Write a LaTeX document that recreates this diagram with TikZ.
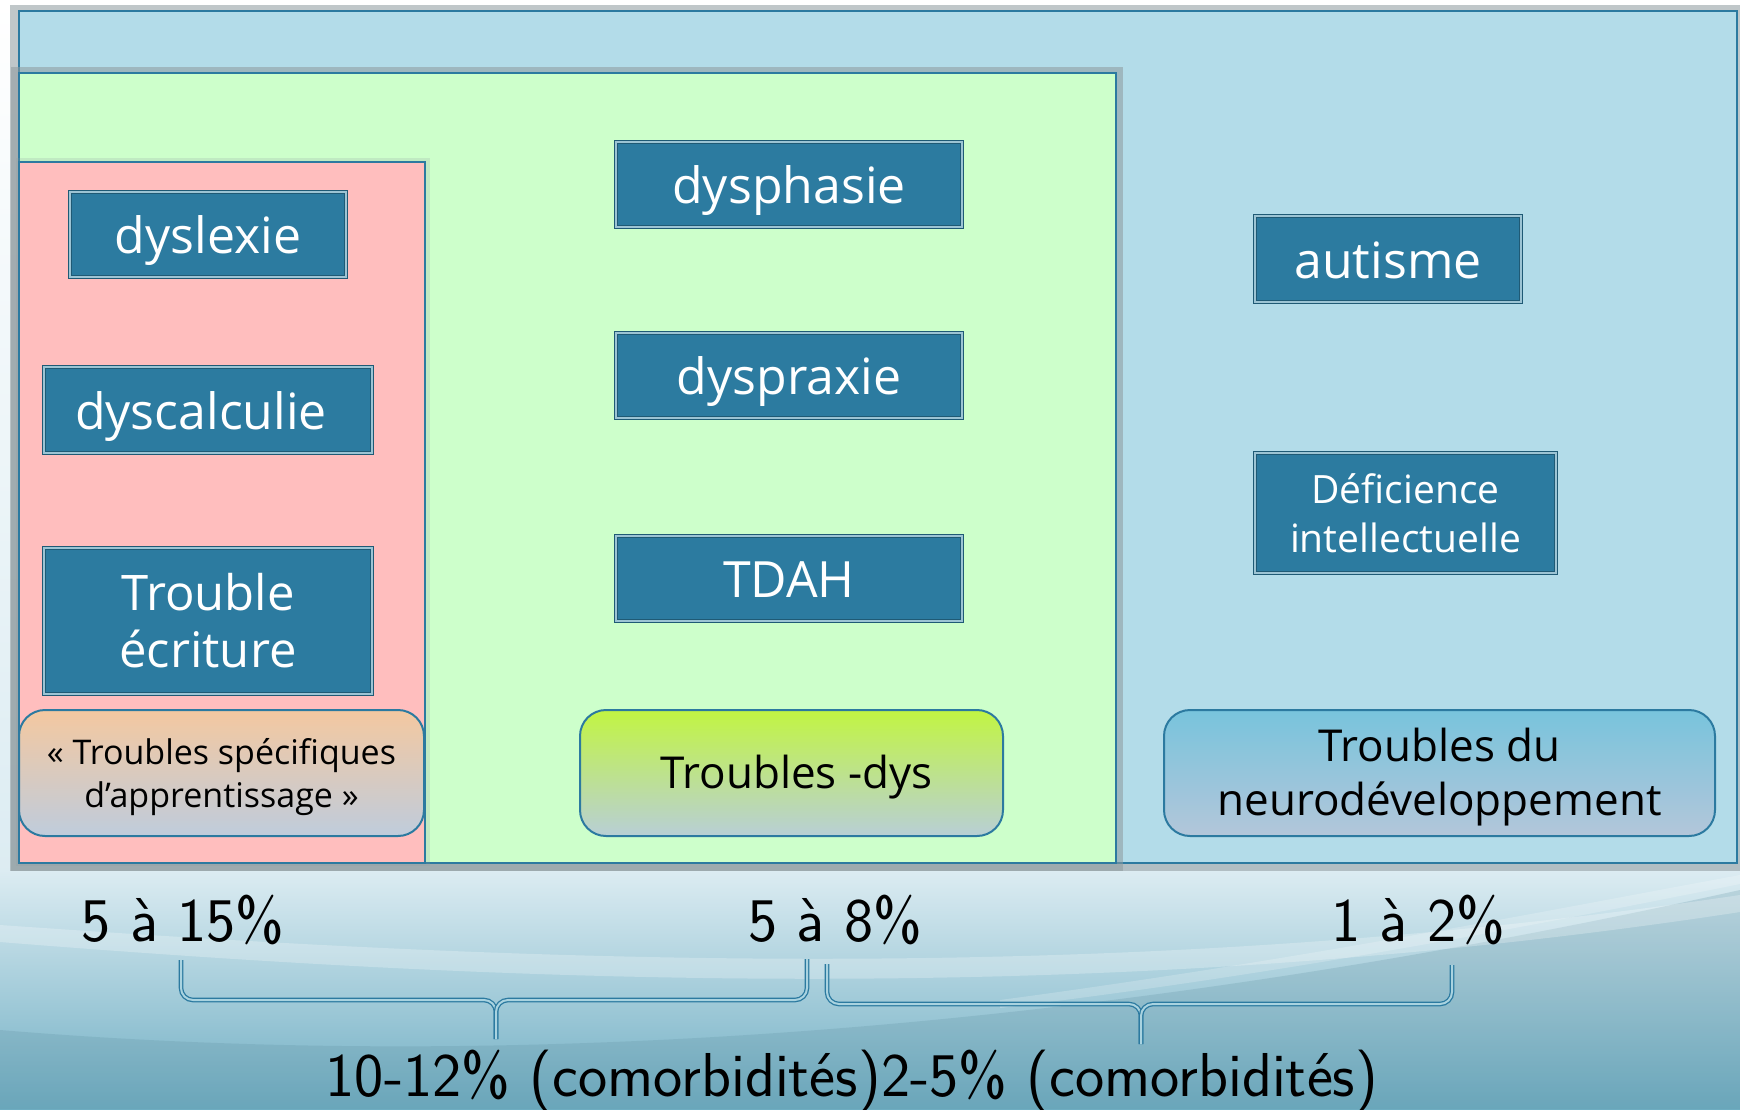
\documentclass[tikz,border=0pt]{standalone}
\usepackage{fontspec}
\newfontfamily\osans{Open Sans}
\definecolor{frame}{HTML}{2C7AA0}
\definecolor{boxblue}{HTML}{2C7BA0}
\definecolor{boxedge}{HTML}{1F5A75}
\definecolor{boxline}{HTML}{9CC4D4}
\definecolor{outerblue}{HTML}{B3DCE9}
\definecolor{greenbg}{HTML}{CDFFCB}
\definecolor{pinkbg}{HTML}{FFBEBE}
\definecolor{shadowgray}{HTML}{8E9A9E}
\definecolor{orangetop}{HTML}{F4C8A0}
\definecolor{bluebot}{HTML}{BFCCDC}
\definecolor{limetop}{HTML}{C2F542}
\definecolor{limebot}{HTML}{B8CFD6}
\definecolor{cyantop}{HTML}{78C4DC}
\definecolor{cyanbot}{HTML}{B3C6DA}
\definecolor{skytop}{HTML}{DCECF2}
\definecolor{skybot}{HTML}{6FAEC3}
\definecolor{bracefill}{HTML}{A9D3E0}
\tikzset{
  dbox/.style={draw=boxedge, line width=1.2pt, double=boxline, double distance=1.2pt,
    fill=boxblue, text=white, inner sep=0pt, align=center,
    font=\osans\fontsize{50}{57}\selectfont},
  oneline/.style={text height=50pt, text depth=12pt},
  rbox/.style={draw=frame, line width=2pt, rounded corners=26pt, inner sep=0pt,
    align=center, text=black},
  pct/.style={font=\sffamily\fontsize{62}{68}\selectfont, text=black, inner sep=0pt},
  bracestyle/.style={draw=frame, line width=1.3pt, double=bracefill, double distance=2pt,
    rounded corners=12pt},
  glow/.style={fill=shadowgray, opacity=0.55}
}
\begin{document}
\begin{tikzpicture}[x=1pt,y=-1pt]
\useasboundingbox (0,0) rectangle (1740,1109);
% page background
\fill[top color=white, bottom color=skytop] (0,0) rectangle (1740,880);
\fill[top color=skytop, bottom color=skybot] (0,870) rectangle (1740,1109);
\fill[skybot!80!black, opacity=0.22] (0,1109) -- (0,1030) .. controls (600,1080) and (1200,1010) .. (1740,890) -- (1740,1109) -- cycle;
\fill[white, opacity=0.25] (0,925) .. controls (500,960) and (1100,990) .. (1740,895) -- (1740,912) .. controls (1100,1010) and (500,982) .. (0,942) -- cycle;
\fill[white, opacity=0.2] (1000,1000) .. controls (1300,960) and (1550,910) .. (1740,875) -- (1740,884) .. controls (1550,922) and (1300,972) .. (1000,1008) -- cycle;
% containers
\fill[glow] (10,5) rectangle (1740,871);
\filldraw[fill=outerblue, draw=frame, line width=2pt] (19,11) rectangle (1737,863);
\fill[glow] (11,67) rectangle (1123,871);
\filldraw[fill=greenbg, draw=frame, line width=2pt] (19,73) rectangle (1116,863);
\fill[shadowgray, opacity=0.2] (16,158) rectangle (430,866);
\filldraw[fill=pinkbg, draw=frame, line width=2pt] (19,162) rectangle (425,863);
% dark boxes
\node[dbox, oneline, minimum width=276pt, minimum height=85pt] (dyslexie) at (208,234.5) {dyslexie};
\node[dbox, oneline, minimum width=328pt, minimum height=86pt] (dyscalc) at (208,410) {dyscalculie\hspace*{14pt}};
\node[dbox, minimum width=328pt, minimum height=146pt, font=\osans\fontsize{49}{57}\selectfont] (ecriture) at (208,621) {Trouble\\écriture};
\node[dbox, oneline, minimum width=346pt, minimum height=85pt] (dysphasie) at (789,184.5) {dysphasie};
\node[dbox, oneline, minimum width=346pt, minimum height=85pt] (dyspraxie) at (789,375.5) {dyspraxie};
\node[dbox, oneline, minimum width=346pt, minimum height=85pt] (tdah) at (789,578.5) {TDAH};
\node[dbox, oneline, minimum width=266pt, minimum height=86pt] (autisme) at (1388,259) {autisme};
\node[dbox, minimum width=301pt, minimum height=120pt, font=\osans\fontsize{39}{49}\selectfont] (deficience) at (1405.5,513) {Déficience\\intellectuelle};
% rounded labels
\node[rbox, minimum width=405pt, minimum height=126pt, top color=orangetop, middle color=orangetop, bottom color=bluebot,
  font=\osans\fontsize{34}{43}\selectfont] (tsa) at (221.5,773) {\rule{0pt}{34pt}« Troubles spécifiques\\d’apprentissage »};
\node[rbox, minimum width=423pt, minimum height=126pt, top color=limetop, middle color=limetop!85!limebot, bottom color=limebot,
  font=\osans\fontsize{44}{54}\selectfont, text height=42pt, text depth=12pt] (dys) at (791.5,773) {\hspace*{10pt}Troubles -dys};
\node[rbox, minimum width=551pt, minimum height=126pt, top color=cyantop, middle color=cyantop!80!cyanbot, bottom color=cyanbot,
  font=\osans\fontsize{44}{54}\selectfont] (neuro) at (1439.5,773) {\rule{0pt}{42pt}Troubles du\\neurodéveloppement};
% percentages
\node[pct, anchor=base] (p1) at (183,941) {5 à 15\%};
\node[pct, anchor=base] (p2) at (835,941) {5 à 8\%};
\node[pct, anchor=base] (p3) at (1418,941) {1 à 2\%};
\node[pct, anchor=base east] (c1) at (881,1096) {10-12\% (comorbidités)};
\node[pct, anchor=base west] (c2) at (881,1096) {2-5\% (comorbidités)};
% braces
\coordinate (b1l) at (181,960);
\coordinate (b1r) at (807,959);
\coordinate (b1t) at (496,1039);
\coordinate (b2l) at (827,964);
\coordinate (b2r) at (1452,965);
\coordinate (b2t) at (1141,1044);
\draw[bracestyle] (b1l) -- (b1l |- 0,1000) -- (b1t |- 0,1000) -- (b1t);
\draw[bracestyle] (b1r) -- (b1r |- 0,1000) -- (b1t |- 0,1000) -- (b1t);
\draw[bracestyle] (b2l) -- (b2l |- 0,1004) -- (b2t |- 0,1004) -- (b2t);
\draw[bracestyle] (b2r) -- (b2r |- 0,1004) -- (b2t |- 0,1004) -- (b2t);
\end{tikzpicture}
\end{document}
